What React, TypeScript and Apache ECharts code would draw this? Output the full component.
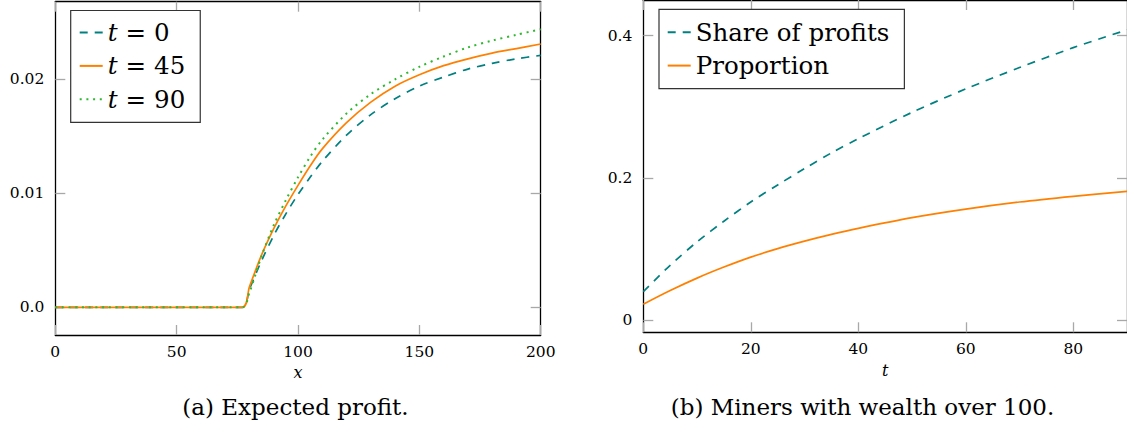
import React, { useEffect, useRef } from 'react';
import * as echarts from 'echarts';

// ---- Data: (a) Expected profit ----
const profitX = [0, 77, 80, 85, 90, 95, 100, 105, 110, 120, 130, 140, 150, 160, 170, 180, 190, 200];
const profitT0 = [0, 0, 0.0016, 0.0041, 0.0063, 0.0082, 0.0099, 0.0114, 0.0128, 0.0151, 0.0169, 0.0183, 0.0194, 0.0202, 0.0209, 0.0214, 0.0218, 0.0221];
const profitT45 = [0, 0, 0.0018, 0.0046, 0.0069, 0.0089, 0.0107, 0.0124, 0.0139, 0.0162, 0.0180, 0.0194, 0.0204, 0.0212, 0.0218, 0.0223, 0.0227, 0.0231];
const profitT90 = [0, 0, 0.0013, 0.0045, 0.0072, 0.0094, 0.0114, 0.0132, 0.0147, 0.0170, 0.0187, 0.0200, 0.0211, 0.0220, 0.0228, 0.0234, 0.0239, 0.0244];
const profitNames = ['t = 0', 't = 45', 't = 90'];

// ---- Data: (b) Miners with wealth over 100 ----
const tValues = [0, 5, 10, 15, 20, 25, 30, 35, 40, 50, 60, 70, 80, 90];
const shareOfProfits = [0.040, 0.077, 0.110, 0.139, 0.166, 0.190, 0.213, 0.235, 0.255, 0.292, 0.325, 0.355, 0.383, 0.408];
const proportion = [0.0223, 0.0415, 0.059, 0.0745, 0.0885, 0.1005, 0.111, 0.1205, 0.129, 0.144, 0.156, 0.166, 0.174, 0.181];
const minerNames = ['Share of profits', 'Proportion'];

// ---- Ticks ----
const leftXTicks = [0, 50, 100, 150, 200];
const leftYTicks = [0, 0.01, 0.02];
const rightXTicks = [0, 20, 40, 60, 80];
const rightYTicks = [0, 0.2, 0.4];
const axisNames = ['x', 't'];
const captions = ['(a) Expected profit.', '(b) Miners with wealth over 100.'];

const TEAL = '#008080';
const ORANGE = '#ff8000';
const GREEN = '#2db82d';
const FONT = 'DejaVu Serif';
const TICK_FONT = 15.5;
const LEGEND_FONT = 24.5;
const CAPTION_FONT = 23;

const pairs = (xs: number[], ys: number[]) => xs.map((x, i) => [x, ys[i]]);

function makeAxis(opts: any) {
  const { ticks, min, max, position, gridIndex, showLabel, formatter, margin, name, nameGap } = opts;
  return {
    type: 'value',
    gridIndex,
    position,
    min,
    max,
    name: name || '',
    nameLocation: 'middle',
    nameGap: nameGap || 0,
    nameTextStyle: { fontFamily: FONT, fontStyle: 'italic', fontSize: 16, color: '#000' },
    axisLine: { show: true, onZero: false, lineStyle: { color: '#000', width: 1.3 } },
    axisTick: { show: true, inside: true, length: 10, customValues: ticks, lineStyle: { color: '#a8a8a8', width: 1.3 } },
    axisLabel: {
      show: showLabel,
      customValues: ticks,
      formatter,
      margin,
      fontFamily: FONT,
      fontSize: TICK_FONT,
      color: '#000',
    },
    splitLine: { show: false },
  };
}

export default function App() {
  const ref = useRef<HTMLDivElement>(null);

  useEffect(() => {
    if (!ref.current) return;
    const chart = echarts.init(ref.current, undefined, { renderer: 'svg' });

    const legendText = () => ({
      fontFamily: FONT,
      fontSize: LEGEND_FONT,
      color: '#000',
      lineHeight: 30,
    });

    const lineSeries = (name: string, xs: number[], ys: number[], axis: number, color: string, width: number, type: any, z: number) => ({
      name,
      type: 'line',
      xAxisIndex: axis * 2,
      yAxisIndex: axis * 2,
      data: pairs(xs, ys),
      symbol: 'none',
      smooth: 0.3,
      z,
      lineStyle: { color, width, type },
      itemStyle: { color },
    });

    const option: any = {
      animation: false,
      backgroundColor: '#fff',
      grid: [
        { left: 55.3, top: 1.7, width: 485.4, height: 333.3, containLabel: false },
        { left: 643.3, top: -2.4, width: 485.3, height: 334.7, containLabel: false },
      ],
      xAxis: [
        makeAxis({ gridIndex: 0, position: 'bottom', min: 0, max: 200, ticks: leftXTicks, showLabel: true, margin: 9, name: axisNames[0], nameGap: 20 }),
        makeAxis({ gridIndex: 0, position: 'top', min: 0, max: 200, ticks: leftXTicks, showLabel: false }),
        makeAxis({ gridIndex: 1, position: 'bottom', min: 0, max: 90, ticks: rightXTicks, showLabel: true, margin: 9, name: axisNames[1], nameGap: 25 }),
        makeAxis({ gridIndex: 1, position: 'top', min: 0, max: 90, ticks: rightXTicks, showLabel: false }),
      ],
      yAxis: [
        makeAxis({ gridIndex: 0, position: 'left', min: -0.00243, max: 0.02681, ticks: leftYTicks, showLabel: true, margin: 11,
          formatter: (v: number) => (v === 0 ? '0.0' : v.toFixed(2)) }),
        makeAxis({ gridIndex: 0, position: 'right', min: -0.00243, max: 0.02681, ticks: leftYTicks, showLabel: false }),
        makeAxis({ gridIndex: 1, position: 'left', min: -0.0172, max: 0.45, ticks: rightYTicks, showLabel: true, margin: 11,
          formatter: (v: number) => (v === 0 ? '0' : v.toFixed(1)) }),
        makeAxis({ gridIndex: 1, position: 'right', min: -0.0172, max: 0.45, ticks: rightYTicks, showLabel: false }),
      ],
      legend: [
        {
          data: profitNames,
          orient: 'vertical',
          left: 70.7,
          top: 10.5,
          padding: [7, 15, 8, 8],
          itemGap: 3.4,
          itemWidth: 23,
          itemHeight: 14,
          itemStyle: { opacity: 0 },
          borderColor: '#333',
          borderWidth: 1.2,
          backgroundColor: '#fff',
          selectedMode: false,
          formatter: (name: string) => `{i|t}{e|=}{n|${name.split('= ')[1]}}`,
          textStyle: {
            ...legendText(),
            rich: {
              i: { ...legendText(), fontStyle: 'italic' },
              e: { ...legendText(), padding: [0, 8, 0, 8] },
              n: { ...legendText() },
            },
          },
        },
        {
          data: minerNames,
          orient: 'vertical',
          left: 659,
          top: 9.3,
          padding: [8, 15, 8, 7.7],
          itemGap: 3.3,
          itemWidth: 23,
          itemHeight: 14,
          itemStyle: { opacity: 0 },
          borderColor: '#333',
          borderWidth: 1.2,
          backgroundColor: '#fff',
          selectedMode: false,
          textStyle: legendText(),
        },
      ],
      series: [
        lineSeries(profitNames[0], profitX, profitT0, 0, TEAL, 1.7, [8, 7], 3),
        lineSeries(profitNames[1], profitX, profitT45, 0, ORANGE, 1.7, 'solid', 4),
        lineSeries(profitNames[2], profitX, profitT90, 0, GREEN, 2, [2, 4.7], 5),
        lineSeries(minerNames[0], tValues, shareOfProfits, 1, TEAL, 1.7, [8, 7], 3),
        lineSeries(minerNames[1], tValues, proportion, 1, ORANGE, 1.7, 'solid', 4),
      ],
      graphic: captions.map((c, i) => ({
        type: 'text',
        x: [295.5, 862.5][i],
        y: 407,
        style: {
          text: c,
          fontFamily: FONT,
          fontSize: CAPTION_FONT,
          fill: '#000',
          align: 'center',
          verticalAlign: 'middle',
        },
      })),
    };

    chart.setOption(option);
    return () => chart.dispose();
  }, []);

  return (
    <div
      ref={ref}
      style={{ position: 'fixed', left: 0, top: 0, width: 1127, height: 435, background: '#fff' }}
    />
  );
}
